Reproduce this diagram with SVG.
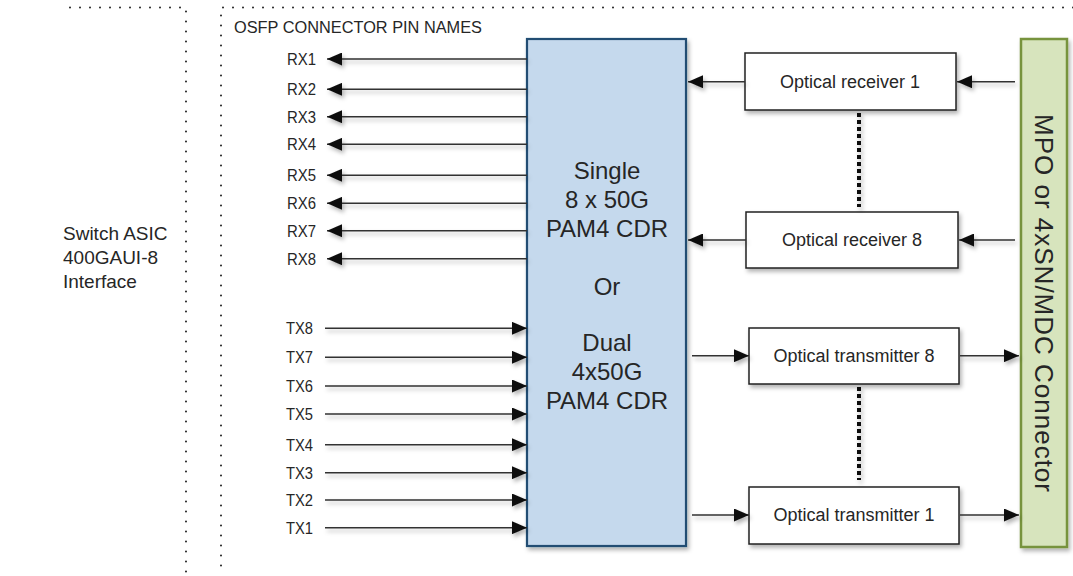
<svg xmlns="http://www.w3.org/2000/svg" width="1073" height="576" viewBox="0 0 1073 576">
<style>
text{font-family:"Liberation Sans",Arial,sans-serif;fill:#262626}
.pin{font-size:16.5px;text-anchor:end}
.opt{font-size:18px;text-anchor:middle}
.big{font-size:24px;text-anchor:middle}
.side{font-size:19px}
.dot{fill:none;stroke:#222;stroke-width:2;stroke-linecap:round;stroke-dasharray:0 10}
.ln{fill:none;stroke:#333;stroke-width:1.4}
.box{fill:#fff;stroke:#222;stroke-width:1.5}
.thick{fill:none;stroke:#111;stroke-width:4;stroke-dasharray:4 3}
</style>
<defs>
<filter id="sh" x="-10%" y="-10%" width="130%" height="130%">
<feDropShadow dx="2" dy="3" stdDeviation="2" flood-color="#000" flood-opacity="0.3"/>
</filter>
<marker id="ah" viewBox="0 0 15 13" refX="15" refY="6.5" markerWidth="15" markerHeight="13" markerUnits="userSpaceOnUse" orient="auto">
<path d="M0,0 L15,6.5 L0,13 Z" fill="#111"/>
</marker>
</defs>
<g id="frame">
<path class="dot" d="M70,7.5 H186 V576"/>
<path class="dot" d="M1073,7.5 H221 V568"/>
<text x="234" y="33" style="font-size:16px" textLength="248" lengthAdjust="spacingAndGlyphs">OSFP CONNECTOR PIN NAMES</text>
</g>
<g id="switch-asic">
<text class="side" x="63" y="240">Switch ASIC</text>
<text class="side" x="63" y="264">400GAUI-8</text>
<text class="side" x="63" y="288">Interface</text>
</g>
<g id="cdr" filter="url(#sh)">
<rect x="527" y="39" width="159" height="507" fill="#C5D9ED" stroke="#234D73" stroke-width="2.2"/>
</g>
<g id="cdr-label">
<text class="big" x="607" y="179">Single</text>
<text class="big" x="607" y="208">8 x 50G</text>
<text class="big" x="607" y="237">PAM4 CDR</text>
<text class="big" x="607" y="295">Or</text>
<text class="big" x="607" y="351">Dual</text>
<text class="big" x="607" y="380">4x50G</text>
<text class="big" x="607" y="409">PAM4 CDR</text>
</g>
<g id="rx1-box" filter="url(#sh)"><rect class="box" x="745" y="53" width="211" height="57"/></g>
<g id="rx8-box" filter="url(#sh)"><rect class="box" x="746" y="212" width="212" height="56"/></g>
<g id="tx8-box" filter="url(#sh)"><rect class="box" x="749" y="328" width="210" height="56"/></g>
<g id="tx1-box" filter="url(#sh)"><rect class="box" x="749" y="487" width="210" height="57"/></g>
<g id="box-labels">
<text class="opt" x="850" y="88">Optical receiver 1</text>
<text class="opt" x="852" y="246">Optical receiver 8</text>
<text class="opt" x="854" y="362">Optical transmitter 8</text>
<text class="opt" x="854" y="521">Optical transmitter 1</text>
</g>
<g id="mpo" filter="url(#sh)">
<rect x="1021" y="39" width="46" height="508" fill="#D7E4BD" stroke="#77933C" stroke-width="2.5"/>
</g>
<g id="mpo-label">
<text x="0" y="0" transform="translate(1035,303) rotate(90)" style="font-size:26px;text-anchor:middle" textLength="378">MPO or 4xSN/MDC Connector</text>
</g>
<g id="connectors" filter="url(#sh)">
<path class="ln" marker-end="url(#ah)" d="M527,59 H327"/>
<path class="ln" marker-end="url(#ah)" d="M527,89.3 H327"/>
<path class="ln" marker-end="url(#ah)" d="M527,116.7 H327"/>
<path class="ln" marker-end="url(#ah)" d="M527,144.3 H327"/>
<path class="ln" marker-end="url(#ah)" d="M527,175.3 H327"/>
<path class="ln" marker-end="url(#ah)" d="M527,203.3 H327"/>
<path class="ln" marker-end="url(#ah)" d="M527,230.7 H327"/>
<path class="ln" marker-end="url(#ah)" d="M527,258.7 H327"/>
<path class="ln" marker-end="url(#ah)" d="M325,328.3 H527"/>
<path class="ln" marker-end="url(#ah)" d="M325,357.3 H527"/>
<path class="ln" marker-end="url(#ah)" d="M325,386 H527"/>
<path class="ln" marker-end="url(#ah)" d="M325,414 H527"/>
<path class="ln" marker-end="url(#ah)" d="M325,444.7 H527"/>
<path class="ln" marker-end="url(#ah)" d="M325,472.7 H527"/>
<path class="ln" marker-end="url(#ah)" d="M325,500 H527"/>
<path class="ln" marker-end="url(#ah)" d="M325,527.7 H527"/>
<path class="ln" marker-end="url(#ah)" d="M745,81.7 H688"/>
<path class="ln" marker-end="url(#ah)" d="M1015,81.7 H957"/>
<path class="ln" marker-end="url(#ah)" d="M746,240 H688"/>
<path class="ln" marker-end="url(#ah)" d="M1015,240 H959"/>
<path class="ln" marker-end="url(#ah)" d="M692,355.7 H749"/>
<path class="ln" marker-end="url(#ah)" d="M960,355.7 H1019"/>
<path class="ln" marker-end="url(#ah)" d="M692,515 H749"/>
<path class="ln" marker-end="url(#ah)" d="M960,515 H1019"/>
<path class="thick" d="M859,113 V207"/>
<path class="thick" d="M859,387 V480"/>
</g>
<g id="pin-labels">
<text class="pin" x="316" y="64.9" textLength="29" lengthAdjust="spacingAndGlyphs">RX1</text>
<text class="pin" x="316" y="95.2" textLength="29" lengthAdjust="spacingAndGlyphs">RX2</text>
<text class="pin" x="316" y="122.6" textLength="29" lengthAdjust="spacingAndGlyphs">RX3</text>
<text class="pin" x="316" y="150.2" textLength="29" lengthAdjust="spacingAndGlyphs">RX4</text>
<text class="pin" x="316" y="181.2" textLength="29" lengthAdjust="spacingAndGlyphs">RX5</text>
<text class="pin" x="316" y="209.2" textLength="29" lengthAdjust="spacingAndGlyphs">RX6</text>
<text class="pin" x="316" y="236.6" textLength="29" lengthAdjust="spacingAndGlyphs">RX7</text>
<text class="pin" x="316" y="264.6" textLength="29" lengthAdjust="spacingAndGlyphs">RX8</text>
<text class="pin" x="313" y="334.2" textLength="27" lengthAdjust="spacingAndGlyphs">TX8</text>
<text class="pin" x="313" y="363.2" textLength="27" lengthAdjust="spacingAndGlyphs">TX7</text>
<text class="pin" x="313" y="391.9" textLength="27" lengthAdjust="spacingAndGlyphs">TX6</text>
<text class="pin" x="313" y="419.9" textLength="27" lengthAdjust="spacingAndGlyphs">TX5</text>
<text class="pin" x="313" y="450.6" textLength="27" lengthAdjust="spacingAndGlyphs">TX4</text>
<text class="pin" x="313" y="478.6" textLength="27" lengthAdjust="spacingAndGlyphs">TX3</text>
<text class="pin" x="313" y="505.9" textLength="27" lengthAdjust="spacingAndGlyphs">TX2</text>
<text class="pin" x="313" y="533.6" textLength="27" lengthAdjust="spacingAndGlyphs">TX1</text>
</g>
</svg>
